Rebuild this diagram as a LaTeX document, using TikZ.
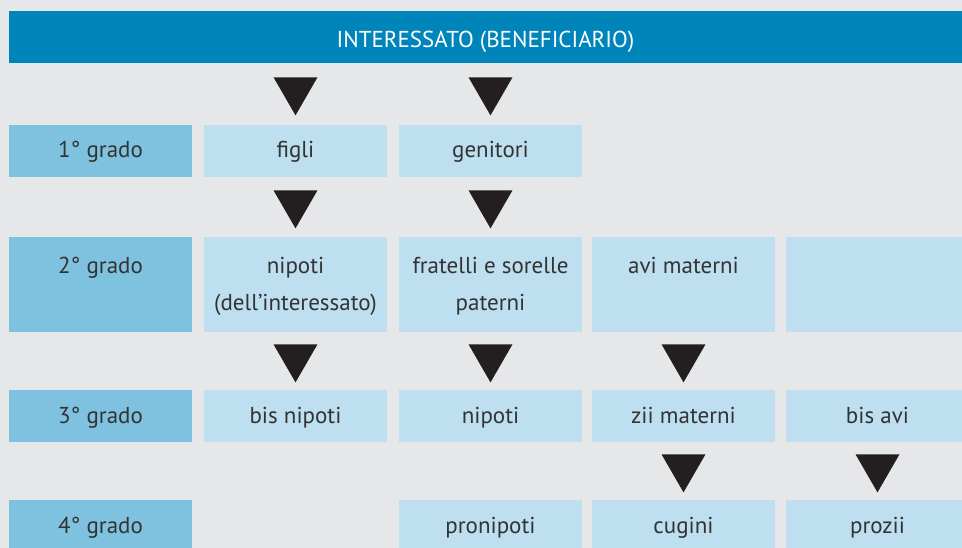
\documentclass[tikz,border=0pt]{standalone}
\usepackage{fontspec}
\setmainfont{PT Sans}
\usetikzlibrary{positioning,shapes.geometric,calc}
\definecolor{intesta}{HTML}{0085BA}
\definecolor{gradocol}{HTML}{7FC2E0}
\definecolor{cellacol}{HTML}{BDDFEF}
\definecolor{sfondo}{HTML}{E6E7E9}
\definecolor{testo}{HTML}{333333}
\definecolor{freccia}{HTML}{231F20}
\newcommand{\duerighe}[2]{\renewcommand{\arraystretch}{1.23}\begin{tabular}{@{}c@{}}#1\\\mbox{}#2\end{tabular}}

\begin{document}
\begin{tikzpicture}[x=1pt,y=-1pt,
    every node/.style={font=\fontsize{23}{30}\selectfont, text=testo, inner sep=0pt, outer sep=0pt},
    grado/.style={fill=gradocol, minimum width=183pt},
    cella/.style={fill=cellacol, minimum width=183pt},
    bassa/.style={minimum height=52pt, text height=14pt, text depth=0pt},
    alta/.style={minimum height=95pt},
    tri/.style={regular polygon, regular polygon sides=3, shape border rotate=180,
        fill=freccia, minimum size=50.8pt, yshift=4pt}]
    \fill[sfondo] (0,0) rectangle (962,548);
    \useasboundingbox (0,0) rectangle (962,548);

    \node[fill=intesta, text=white, minimum width=953pt, minimum height=52pt,
        text height=22pt, text depth=0pt, anchor=north west]
        (interessato) at (9,11) {INTERESSATO (BENEFICIARIO)};

    % 1 grado
    \node[grado, bassa, anchor=north west] (g1) at (9,125) {1° grado};
    \node[cella, bassa, right=12pt of g1] (figli) {figli};
    \node[cella, bassa, right=12pt of figli] (genitori) {genitori};

    % 2 grado
    \node[grado, alta, below=60pt of g1] (g2) {\duerighe{2° grado}{}};
    \node[cella, alta, right=12pt of g2] (nipoti) {\duerighe{nipoti}{(dell’interessato)}};
    \node[cella, alta, right=12pt of nipoti] (fratelli) {\duerighe{fratelli e sorelle}{paterni}};
    \node[cella, alta, right=10pt of fratelli] (avimat) {\duerighe{avi materni}{}};
    \node[cella, alta, right=11pt of avimat] (vuoto) {};

    % 3 grado
    \node[grado, bassa, below=58pt of g2] (g3) {3° grado};
    \node[cella, bassa, right=12pt of g3] (bisnipoti) {bis nipoti};
    \node[cella, bassa, right=12pt of bisnipoti] (nipotifr) {nipoti};
    \node[cella, bassa, right=10pt of nipotifr] (ziimat) {zii materni};
    \node[cella, bassa, right=11pt of ziimat] (bisavi) {bis avi};

    % 4 grado
    \node[grado, bassa, below=58pt of g3] (g4) {4° grado};
    \node[cella, bassa] (pronipoti) at (g4 -| nipotifr) {pronipoti};
    \node[cella, bassa] (cugini) at (g4 -| ziimat) {cugini};
    \node[cella, bassa] (prozii) at (g4 -| bisavi) {prozii};

    % frecce
    \foreach \su/\giu in {interessato/figli, interessato/genitori, figli/nipoti, genitori/fratelli,
        nipoti/bisnipoti, fratelli/nipotifr, avimat/ziimat, ziimat/cugini, bisavi/prozii}
        \node[tri] (t-\giu) at ($(\giu.north)!0.5!(\giu.north |- \su.south)$) {};
\end{tikzpicture}
\end{document}
